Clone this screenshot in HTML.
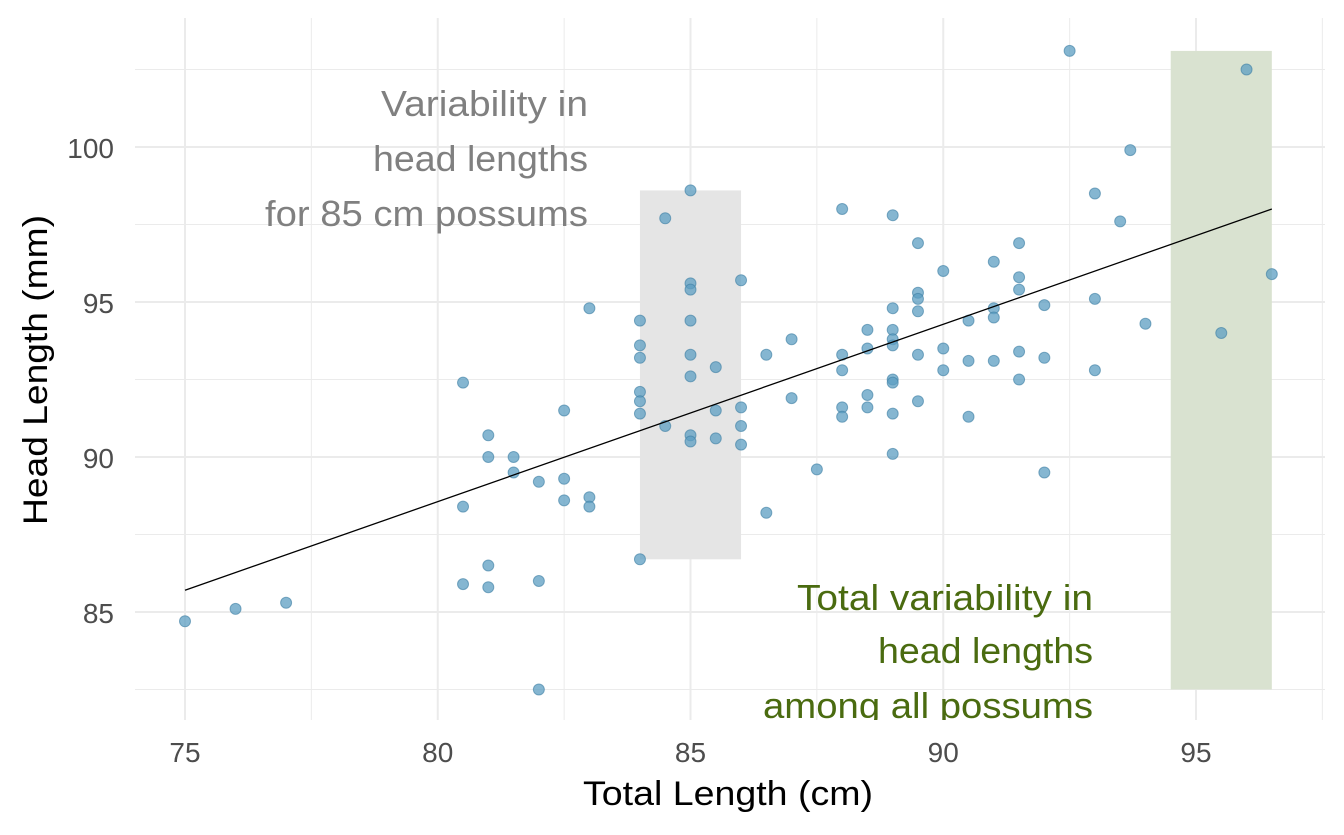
<!DOCTYPE html>
<html><head><meta charset="utf-8"><style>
body{margin:0;background:#fff}
svg{font-family:"Liberation Sans",sans-serif}
</style></head><body>
<svg id="chart" width="1344" height="830" viewBox="0 0 1344 830" xmlns="http://www.w3.org/2000/svg">
<defs><clipPath id="panel"><rect x="135" y="0" width="1200" height="720"/></clipPath></defs>
<g id="grid"></g>
<g id="rects" clip-path="url(#panel)"></g>
<g id="pts"></g>
<g id="line"></g>
<g id="ann" clip-path="url(#panel)"></g>
<g id="axes"></g>
</svg>
<script>
const xs=[75,76,77,80.5,80.5,80.5,81,81,81,81,81.5,81.5,82,82,82,82.5,82.5,82.5,83,83,83,84,84,84,84,84,84,84,84.5,84.5,85,85,85,85,85,85,85,85,85.5,85.5,85.5,86,86,86,86,86.5,86.5,87,87,87.5,88,88,88,88,88,88.5,88.5,88.5,88.5,89,89,89,89,89,89,89,89,89,89.5,89.5,89.5,89.5,89.5,89.5,90,90,90,90.5,90.5,90.5,91,91,91,91,91.5,91.5,91.5,91.5,91.5,92,92,92,92.5,93,93,93,93.5,93.7,94,95.5,96,96.5];
const ys=[84.7,85.1,85.3,92.4,88.4,85.9,90.7,90,86.5,85.8,90,89.5,89.2,86,82.5,91.5,89.3,88.6,94.8,88.7,88.4,94.4,93.6,93.2,92.1,91.8,91.4,86.7,97.7,91,98.6,95.6,95.4,94.4,93.3,92.6,90.7,90.5,92.9,91.5,90.6,95.7,91.6,91,90.4,93.3,88.2,93.8,91.9,89.6,98,93.3,92.8,91.6,91.3,94.1,93.5,92,91.6,97.8,94.8,94.1,93.8,93.6,92.5,92.4,91.4,90.1,96.9,95.3,95.1,94.7,93.3,91.8,96,93.5,92.8,94.4,93.1,91.3,96.3,94.8,94.5,93.1,96.9,95.8,95.4,93.4,92.5,94.9,93.2,89.5,103.1,98.5,95.1,92.8,97.6,99.9,94.3,94,102.5,95.9];
const xTicks=[75,80,85,90,95];
const yTicks=[85,90,95,100];
const fitX=[75,96.5];
const fitY=[85.7,98.0];
const X=v=>185+(v-75)*50.55, Y=v=>147-(v-100)*31;
const NS="http://www.w3.org/2000/svg";
function mk(p,t,a){const e=document.createElementNS(NS,t);for(const k in a)e.setAttribute(k,a[k]);document.getElementById(p).appendChild(e);return e;}
for(let v=75;v<=97.5;v+=2.5){const major=xTicks.includes(v);const l=mk('grid','line',{x1:X(v),x2:X(v),y1:18,y2:720,stroke:'#ebebeb','stroke-width':major?2:1});

}
for(let v=82.5;v<=102.5;v+=2.5){const major=yTicks.includes(v);const l=mk('grid','line',{x1:135,x2:1325,y1:Y(v),y2:Y(v),stroke:'#ebebeb','stroke-width':major?2:1});

}
let r=mk('rects','rect',{x:X(84),y:Y(98.6),width:X(86)-X(84),height:Y(86.7)-Y(98.6),fill:'#e5e5e5'});


r=mk('rects','rect',{x:X(94.5),y:Y(103.1),width:X(96.5)-X(94.5),height:Y(82.5)-Y(103.1),fill:'#d9e2d0'});


xs.forEach((x,i)=>{const c=mk('pts','circle',{cx:X(x),cy:Y(ys[i]),r:5.5,fill:'#5c9ec2','fill-opacity':0.75,stroke:'#3d7fa3','stroke-opacity':0.6,'stroke-width':1});

});
const fl=mk('line','line',{x1:X(fitX[0]),y1:Y(fitY[0]),x2:X(fitX[1]),y2:Y(fitY[1]),stroke:'#000','stroke-width':1.3});


[['Variability in',116,207],['head lengths',171,215],['for 85 cm possums',226,323]].forEach(([t,y,w])=>{const e=mk('ann','text',{x:588,y:y,'text-anchor':'end','font-size':36,fill:'#808080',textLength:w,lengthAdjust:'spacingAndGlyphs'});e.textContent=t;

});
[['Total variability in',610,296],['head lengths',663,215],['among all possums',718,330]].forEach(([t,y,w])=>{const e=mk('ann','text',{x:1093,y:y,'text-anchor':'end','font-size':36,fill:'#4a6b10',textLength:w,lengthAdjust:'spacingAndGlyphs'});e.textContent=t;

});
xTicks.forEach(v=>{const e=mk('axes','text',{x:X(v),y:762,'text-anchor':'middle','font-size':28,fill:'#4d4d4d'});e.textContent=v;

});
yTicks.forEach(v=>{const e=mk('axes','text',{x:114,y:Y(v)+11,'text-anchor':'end','font-size':28,fill:'#4d4d4d'});e.textContent=v;

});
let t=mk('axes','text',{x:728,y:805,'text-anchor':'middle','font-size':34,fill:'#000',textLength:290,lengthAdjust:'spacingAndGlyphs'});t.textContent='Total Length (cm)';


t=mk('axes','text',{x:0,y:0,'text-anchor':'middle','font-size':34,fill:'#000',textLength:310,lengthAdjust:'spacingAndGlyphs',transform:'translate(47,370) rotate(-90)'});t.textContent='Head Length (mm)';


</script>
</body></html>
